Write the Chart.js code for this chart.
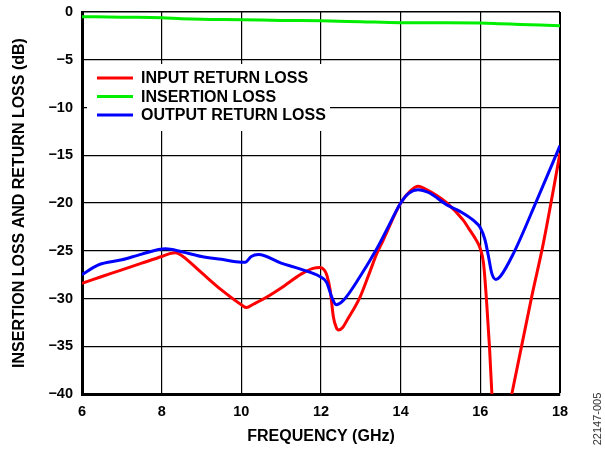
<!DOCTYPE html>
<html>
<head>
<meta charset="utf-8">
<script src="https://cdn.jsdelivr.net/npm/chart.js@4.4.1/dist/chart.umd.min.js"></script>
<style>
  html, body { margin: 0; padding: 0; background: #fff; }
</style>
</head>
<body>
<canvas id="chart" width="605" height="450"></canvas>
<script>
// values (GHz / dB)
const inputFreq = [6, 6.5, 7, 7.5, 8, 8.2, 8.35, 8.5, 9, 9.5, 10, 10.13, 10.3, 10.64, 11, 11.5, 11.8, 11.97, 12.08, 12.15, 12.23, 12.31, 12.38, 12.44, 12.55, 12.65, 12.98, 13.2, 13.4, 13.56, 14, 14.25, 14.44, 14.6, 15.16, 15.57, 15.7, 15.87, 16, 16.08, 16.16, 16.23, 16.29, 16.4, 16.79, 17.29, 17.58, 18];
const inputLoss = [-28.4, -27.7, -27.0, -26.3, -25.6, -25.3, -25.2, -25.5, -27.3, -29.1, -30.65, -30.95, -30.6, -29.85, -28.9, -27.45, -26.85, -26.75, -27.0, -27.6, -29.1, -31.9, -33.0, -33.3, -33.0, -32.3, -29.85, -27.5, -25.3, -23.9, -20.0, -18.7, -18.25, -18.5, -20.0, -21.8, -22.6, -23.7, -24.8, -26.3, -30.5, -35.1, -40, -47.5, -40, -29.8, -24.25, -14.8];

const insertionFreq = [6, 7, 8, 8.5, 9, 10, 11, 12, 13, 14, 15, 16, 16.5, 17, 17.5, 18];
const insertionLoss = [-0.49, -0.55, -0.6, -0.7, -0.76, -0.8, -0.88, -0.92, -1.02, -1.12, -1.13, -1.15, -1.22, -1.3, -1.37, -1.43];

const outputFreq = [6, 6.4, 7, 7.5, 8.1, 8.5, 9, 9.5, 10, 10.1, 10.25, 10.43, 11, 11.47, 11.97, 12.14, 12.27, 12.38, 12.56, 12.98, 13.4, 13.7, 14, 14.2, 14.44, 14.7, 15.16, 15.5, 15.82, 16, 16.12, 16.2, 16.29, 16.39, 16.5, 16.83, 17.42, 18];
const outputLoss = [-27.5, -26.5, -25.95, -25.35, -24.8, -25.1, -25.6, -25.9, -26.2, -26.2, -25.6, -25.4, -26.3, -26.9, -27.7, -28.3, -29.85, -30.65, -30.2, -27.7, -24.8, -22.4, -20.0, -19.0, -18.6, -18.9, -20.2, -20.9, -21.8, -22.6, -23.9, -25.5, -27.4, -28.0, -27.7, -25.3, -19.7, -14.0];

const xTicks = [6, 8, 10, 12, 14, 16, 18];
const yTicks = [0, -5, -10, -15, -20, -25, -30, -35, -40];

const FONT = "'Liberation Sans', Arial, Helvetica, sans-serif";

function pts(xs, ys) {
  return xs.map((x, i) => ({ x: x, y: ys[i] }));
}

// legend sits inside the plot on a white box
const legendBox = {
  id: 'legendBox',
  afterDatasetsDraw(chart) {
    const c = chart.ctx;
    c.save();
    c.fillStyle = '#fff';
    c.fillRect(87, 64, 243, 67);
    c.font = 'bold 16px ' + FONT;
    c.textBaseline = 'middle';
    c.textAlign = 'left';
    chart.data.datasets.forEach((ds, i) => {
      const y = 78 + i * 18.5;
      c.strokeStyle = ds.borderColor;
      c.lineWidth = 3;
      c.beginPath();
      c.moveTo(97, y);
      c.lineTo(133, y);
      c.stroke();
      c.fillStyle = '#000';
      c.fillText(ds.label, 141, y + 1);
    });
    c.restore();
  }
};

const figId = {
  id: 'figId',
  afterDraw(chart) {
    const c = chart.ctx;
    c.save();
    c.translate(598, 419);
    c.rotate(-Math.PI / 2);
    c.font = '11px ' + FONT;
    c.fillStyle = '#333';
    c.textAlign = 'center';
    c.textBaseline = 'middle';
    c.fillText('22147-005', 0, 0);
    c.restore();
  }
};

const ctx = document.getElementById('chart').getContext('2d');

new Chart(ctx, {
  type: 'line',
  data: {
    datasets: [{
      label: 'INPUT RETURN LOSS',
      data: pts(inputFreq, inputLoss),
      borderColor: '#ff0000',
      order: 1
    }, {
      label: 'INSERTION LOSS',
      data: pts(insertionFreq, insertionLoss),
      borderColor: '#00ee00',
      order: 2
    }, {
      label: 'OUTPUT RETURN LOSS',
      data: pts(outputFreq, outputLoss),
      borderColor: '#0000ff',
      order: 0
    }]
  },
  options: {
    responsive: false,
    animation: false,
    devicePixelRatio: 1,
    layout: { padding: { top: 12, right: 45, left: 0, bottom: 0 } },
    elements: {
      point: { radius: 0 },
      line: { borderWidth: 3, cubicInterpolationMode: 'monotone', fill: false }
    },
    plugins: {
      legend: { display: false },
      tooltip: { enabled: false }
    },
    scales: {
      x: {
        type: 'linear',
        min: 6,
        max: 18,
        afterBuildTicks: s => { s.ticks = xTicks.map(v => ({ value: v })); },
        afterFit: s => { s.height = 56; s.paddingLeft = 0; s.paddingRight = 0; },
        grid: {
          color: '#000',
          lineWidth: c => (c.tick && c.tick.value === 18 ? 2 : 1.2),
          drawTicks: false
        },
        border: { display: true, color: '#000', width: 3 },
        ticks: {
          color: '#000',
          padding: 9,
          maxRotation: 0,
          font: { family: FONT, size: 14.5, weight: 'bold' }
        },
        title: {
          display: true,
          text: 'FREQUENCY (GHz)',
          color: '#000',
          padding: { top: 6, bottom: 4 },
          font: { family: FONT, size: 16, weight: 'bold' }
        }
      },
      y: {
        min: -40,
        max: 0,
        afterBuildTicks: s => { s.ticks = yTicks.map(v => ({ value: v })); },
        afterFit: s => { s.width = 82; s.paddingTop = 0; s.paddingBottom = 0; },
        grid: {
          color: '#000',
          lineWidth: c => (c.tick && c.tick.value === 0 ? 1.5 : 1.2),
          drawTicks: false
        },
        border: { display: true, color: '#000', width: 3 },
        ticks: {
          color: '#000',
          padding: 9,
          font: { family: FONT, size: 14.5, weight: 'bold' },
          callback: v => (v < 0 ? '\u2212' + Math.abs(v) : String(v))
        },
        title: {
          display: true,
          text: 'INSERTION LOSS AND RETURN LOSS (dB)',
          color: '#000',
          padding: { top: 10, bottom: 4 },
          font: { family: FONT, size: 16, weight: 'bold' }
        }
      }
    }
  },
  plugins: [legendBox, figId]
});
</script>
</body>
</html>
